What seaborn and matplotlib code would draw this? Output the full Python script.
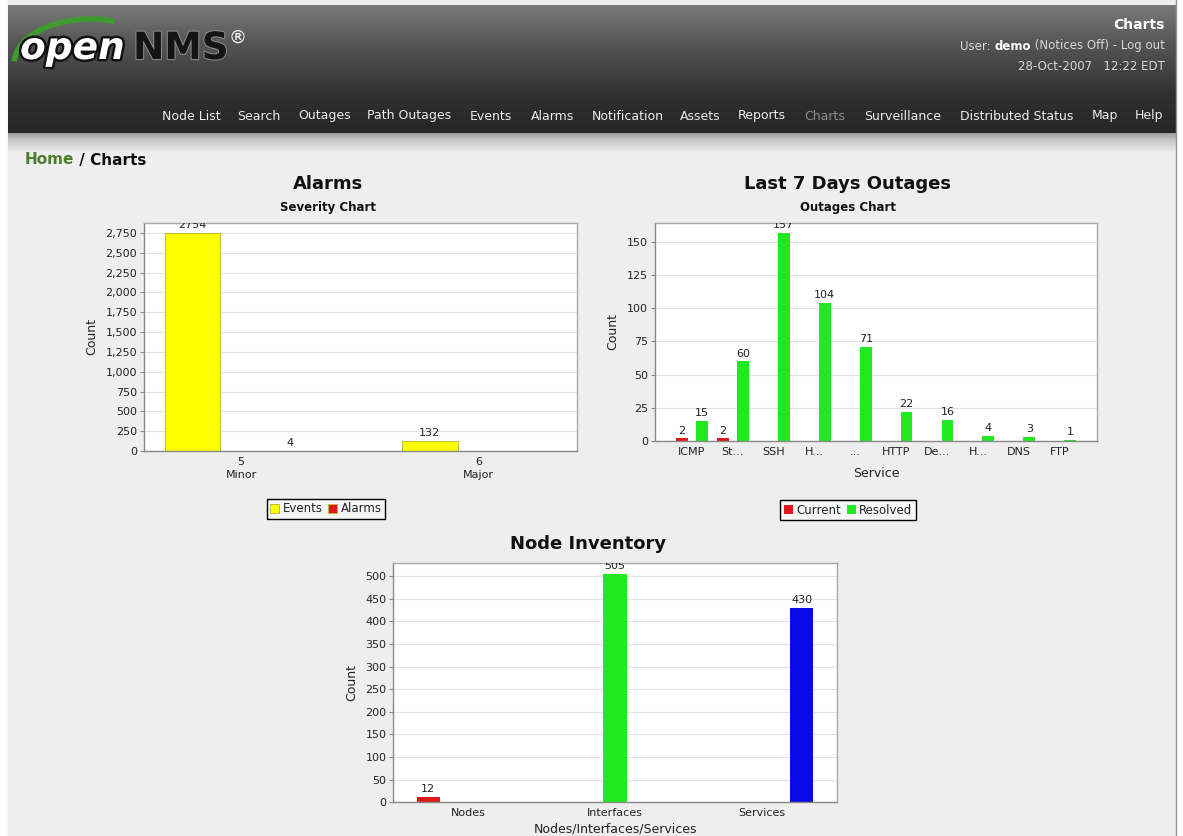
import numpy as np
import pandas as pd
import matplotlib
matplotlib.use("Agg")
import matplotlib.pyplot as plt
import seaborn as sns
from matplotlib.patches import Rectangle, Arc
import matplotlib.patheffects as pe
from matplotlib.ticker import FuncFormatter, MultipleLocator
from matplotlib.colors import to_rgb

# ---------------- data ----------------
alarm_severities = ["5\nMinor", "6\nMajor"]
alarm_series = ["Events", "Alarms"]
alarm_events = [2754, 132]
alarm_alarms = [4, 0]

outage_services = ["ICMP", "St...", "SSH", "H...", "...", "HTTP", "De...", "H...", "DNS", "FTP"]
outage_series = ["Current", "Resolved"]
outage_current = [2, 2, 0, 0, 0, 0, 0, 0, 0, 0]
outage_resolved = [15, 60, 157, 104, 71, 22, 16, 4, 3, 1]

inventory_items = ["Nodes", "Interfaces", "Services"]
inventory_counts = [12, 505, 430]

nav_items = ["Node List", "Search", "Outages", "Path Outages", "Events", "Alarms",
             "Notification", "Assets", "Reports", "Charts", "Surveillance",
             "Distributed Status", "Map", "Help"]

# ---------------- style ----------------
W, H = 1183, 836
sns.set_theme(style="white")
plt.rcParams["font.family"] = ["DejaVu Sans"]
plt.rcParams["axes.edgecolor"] = "#a0a0a0"

YELLOW = "#ffff00"
RED = "#dd1a1a"
GREEN = "#22e822"
BLUE = "#0a0ae6"
TXT = "#222222"

fig = plt.figure(figsize=(W / 100, H / 100), dpi=100)
fig.patch.set_facecolor("white")

# ---------------- page background / header ----------------
bg = fig.add_axes([0, 0, 1, 1], zorder=-10)
bg.axis("off")
bg.add_patch(Rectangle((8, 0), 1168, H, color="#eeeeee", zorder=0))


def vgrad(y0, y1, stops):
    ys = np.linspace(y0, y1, 200)
    sy = [s[0] for s in stops]
    cols = [to_rgb(s[1]) for s in stops]
    arr = np.zeros((len(ys), 1, 3))
    for c in range(3):
        arr[:, 0, c] = np.interp(ys, sy, [col[c] for col in cols])
    return arr


head = vgrad(5, 133, [(5, "#7a7a7a"), (40, "#585858"), (95, "#303030"), (133, "#262626")])
bg.imshow(head, extent=(8, 1176, 133, 5), aspect="auto", interpolation="bilinear", zorder=1)
shadow = vgrad(133, 153, [(133, "#9a9a9a"), (140, "#c8c8c8"), (153, "#eeeeee")])
bg.imshow(shadow, extent=(8, 1176, 153, 133), aspect="auto", interpolation="bilinear", zorder=1)
bg.plot([1176.5, 1176.5], [0, H], color="#9a9a9a", lw=1, zorder=2)
bg.set_xlim(0, W)
bg.set_ylim(H, 0)

# logo
bg.add_patch(Arc((90, 64), 152, 90, theta1=182, theta2=300, color="#3f9a2f", lw=4, zorder=3))
bg.text(20, 59, "open", fontsize=27, weight="bold", style="italic", color="white",
        va="baseline", ha="left", zorder=4,
        path_effects=[pe.withStroke(linewidth=3.5, foreground="#111111")])
bg.text(133, 59, "NMS", fontsize=27, weight="bold", color="#141414",
        va="baseline", ha="left", zorder=4,
        path_effects=[pe.withStroke(linewidth=1.5, foreground="#8a8a8a")])
bg.text(229, 38, "®", fontsize=13, color="white", va="center", ha="left", zorder=4)

renderer = fig.canvas.get_renderer()


def place_right(xr, y, parts):
    x = xr
    for txt, kw in reversed(parts):
        t = bg.text(x, y, txt, ha="right", va="center", zorder=4, **kw)
        x -= t.get_window_extent(renderer=renderer).width


def place_left(xl, y, parts):
    x = xl
    for txt, kw in parts:
        t = bg.text(x, y, txt, ha="left", va="center", zorder=4, **kw)
        x += t.get_window_extent(renderer=renderer).width


place_right(1165, 25, [("Charts", dict(fontsize=10, weight="bold", color="white"))])
gray = dict(fontsize=8.5, color="#d8d8d8")
place_right(1165, 46, [("User: ", gray),
                       ("demo", dict(fontsize=8.5, weight="bold", color="white")),
                       (" (Notices Off) - Log out", gray)])
place_right(1165, 66, [("28-Oct-2007   12:22 EDT", gray)])

nav_x = [162, 237, 298, 367, 470, 531, 592, 680, 738, 804, 864, 960, 1092, 1135]
for name, x in zip(nav_items, nav_x):
    bg.text(x, 116, name, fontsize=9, ha="left", va="center", zorder=4,
            color="#8c8c8c" if name == "Charts" else "#ececec")

place_left(25, 160, [("Home", dict(fontsize=11, weight="bold", color="#4b7d2a")),
                     (" / Charts", dict(fontsize=11, weight="bold", color="#111111"))])

# titles
bg.text(328, 184, "Alarms", fontsize=13, weight="bold", ha="center", va="center", color="#111")
bg.text(328, 207, "Severity Chart", fontsize=8.5, weight="bold", ha="center", va="center", color="#111")
bg.text(848, 184, "Last 7 Days Outages", fontsize=13, weight="bold", ha="center", va="center", color="#111")
bg.text(848, 207, "Outages Chart", fontsize=8.5, weight="bold", ha="center", va="center", color="#111")
bg.text(588, 544, "Node Inventory", fontsize=13, weight="bold", ha="center", va="center", color="#111")


def px_axes(l, r, t, b):
    return fig.add_axes([l / W, 1 - b / H, (r - l) / W, (b - t) / H])


def style_axes(ax, ylim, step, ylab_x, xlab=None, xlab_y=None, comma=False):
    ax.set_facecolor("white")
    ax.set_ylim(0, ylim)
    ax.yaxis.set_major_locator(MultipleLocator(step))
    if comma:
        ax.yaxis.set_major_formatter(FuncFormatter(lambda v, p: f"{int(v):,}"))
    ax.grid(axis="y", color="#e2e2e2", lw=0.8)
    ax.set_axisbelow(True)
    for s in ax.spines.values():
        s.set_color("#a8a8a8")
        s.set_linewidth(1)
    ax.spines["left"].set_color("#888888")
    ax.spines["bottom"].set_color("#888888")
    ax.tick_params(axis="y", left=True, length=3, width=0.8, color="#888888",
                   labelsize=8, labelcolor=TXT, pad=2)
    ax.tick_params(axis="x", bottom=False, length=0, labelsize=8, labelcolor=TXT, pad=4)
    ax.set_ylabel("Count", fontsize=9, color=TXT)
    ax.yaxis.set_label_coords(ylab_x, 0.5)
    if xlab:
        ax.set_xlabel(xlab, fontsize=9, color=TXT)
        ax.xaxis.set_label_coords(0.5, xlab_y)
    else:
        ax.set_xlabel("")


def label_bars(ax):
    for cont in ax.containers:
        texts = ax.bar_label(cont, fmt="%d", padding=2, fontsize=8, color=TXT)
        for t in texts:
            t.set_clip_on(True)
            t.set_clip_box(ax.bbox)


def grab_legend(ax):
    leg = ax.get_legend()
    handles = leg.legend_handles
    labels = [t.get_text() for t in leg.get_texts()]
    leg.remove()
    return handles, labels


def fig_legend(handles, labels, cx, cy):
    lg = fig.legend(handles, labels, loc="center", bbox_to_anchor=(cx / W, 1 - cy / H),
                    ncol=len(labels), frameon=True, fancybox=False, edgecolor="black",
                    facecolor="#f6f6f6", framealpha=1, fontsize=8.5, handlelength=0.75,
                    handleheight=0.75, handletextpad=0.3, columnspacing=0.5,
                    borderpad=0.3, borderaxespad=0)
    lg.get_frame().set_linewidth(1.0)
    for t in lg.get_texts():
        t.set_color(TXT)


# ---------------- Alarms chart ----------------
rows = []
for sev, ev, al in zip(alarm_severities, alarm_events, alarm_alarms):
    if ev > 0:
        rows.append((sev, "Events", ev))
    if al > 0:
        rows.append((sev, "Alarms", al))
df_alarm = pd.DataFrame(rows, columns=["severity", "series", "count"])

ax1 = px_axes(144, 577, 222.7, 451)
sns.barplot(data=df_alarm, x="severity", y="count", hue="series", order=alarm_severities,
            hue_order=alarm_series, palette={"Events": YELLOW, "Alarms": RED},
            width=0.8175, gap=0.428, dodge=True, errorbar=None, ax=ax1,
            edgecolor="#bdbd3a", linewidth=0.7, saturation=1)
style_axes(ax1, 2880, 250, -0.106, comma=True)
ax1.set_xlim(-0.409, 1.416)
for t in ax1.get_xticklabels():
    t.set_linespacing(1.45)
label_bars(ax1)
h, l = grab_legend(ax1)
fig_legend(h, l, 326, 509)

# ---------------- Outages chart ----------------
rows = []
for i, (cur, res) in enumerate(zip(outage_current, outage_resolved)):
    if cur > 0:
        rows.append((i, "Current", cur))
    if res > 0:
        rows.append((i, "Resolved", res))
df_out = pd.DataFrame(rows, columns=["service", "series", "count"])

ax2 = px_axes(655, 1097, 222.7, 441)
sns.barplot(data=df_out, x="service", y="count", hue="series",
            order=list(range(len(outage_services))), hue_order=outage_series,
            palette={"Current": RED, "Resolved": GREEN},
            width=0.98, gap=0.41, dodge=True, errorbar=None, ax=ax2,
            linewidth=0, saturation=1)
style_axes(ax2, 164.5, 25, -0.081, xlab="Service", xlab_y=-0.118)
ax2.set_xticks(range(len(outage_services)))
ax2.set_xticklabels(outage_services)
ax2.set_xlim(-0.905, 9.9)
label_bars(ax2)
h, l = grab_legend(ax2)
fig_legend(h, l, 848, 510)

# ---------------- Node inventory chart ----------------
df_inv = pd.DataFrame({"item": inventory_items, "series": inventory_items,
                       "count": inventory_counts})
ax3 = px_axes(393.3, 837.3, 563.3, 802.3)
sns.barplot(data=df_inv, x="item", y="count", hue="series", order=inventory_items,
            hue_order=inventory_items,
            palette={"Nodes": RED, "Interfaces": GREEN, "Services": BLUE},
            width=0.818, gap=0.418, dodge=True, errorbar=None, ax=ax3,
            linewidth=0, saturation=1, legend=False)
style_axes(ax3, 528, 50, -0.0795, xlab="Nodes/Interfaces/Services", xlab_y=-0.085)
ax3.set_xlim(-0.511, 2.515)
label_bars(ax3)

fig.savefig("out.png", dpi=100)
